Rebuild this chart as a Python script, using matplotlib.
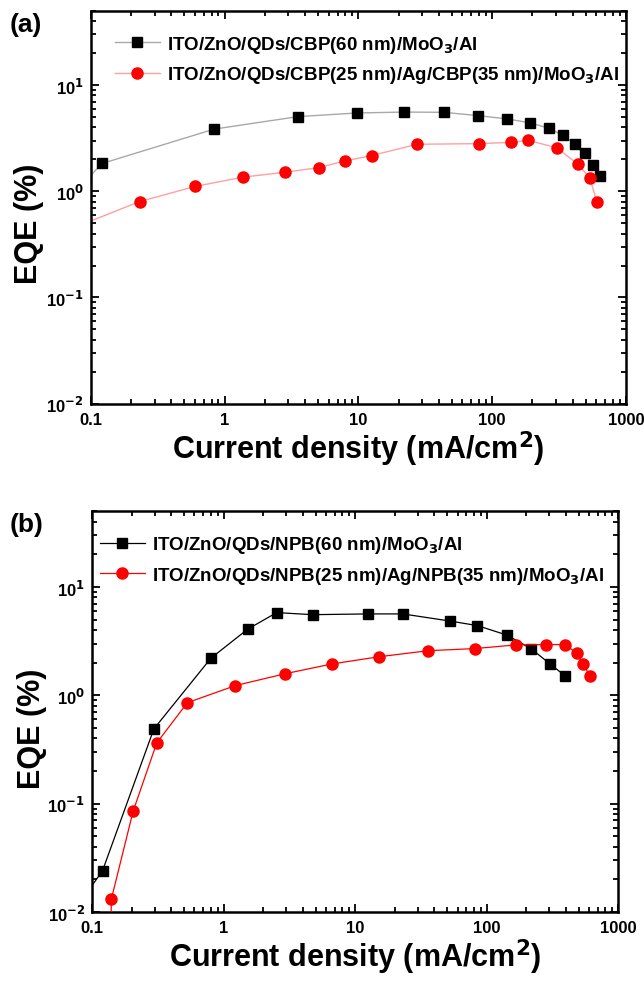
import numpy as np
import matplotlib.pyplot as plt
from matplotlib.ticker import LogLocator, NullFormatter, FixedLocator, FixedFormatter

plt.rcParams['font.family'] = ['Liberation Sans', 'DejaVu Sans']
plt.rcParams['font.weight'] = 'bold'
plt.rcParams['mathtext.default'] = 'bf'

# panel (a): CBP devices (first point of each list lies left of the axis, line only)
a_ref_j = [0.085, 0.122, 0.836, 3.55, 9.8, 21.8, 43.5, 79, 130, 193, 264, 340, 415, 490, 567, 645]
a_ref_eqe = [1.15, 1.83, 3.85, 5.05, 5.46, 5.57, 5.54, 5.15, 4.8, 4.4, 3.93, 3.36, 2.81, 2.29, 1.77, 1.39]
a_ag_j = [0.08, 0.232, 0.60, 1.38, 2.83, 5.05, 7.9, 12.6, 27.4, 79.6, 139, 186, 306, 436, 537, 607]
a_ag_eqe = [0.47, 0.80, 1.11, 1.36, 1.51, 1.67, 1.93, 2.17, 2.77, 2.81, 2.89, 3.02, 2.56, 1.80, 1.34, 0.785]

# panel (b): NPB devices
b_ref_j = [0.08, 0.12, 0.295, 0.80, 1.52, 2.53, 4.75, 12.6, 23, 52.5, 85, 142, 217, 301, 395]
b_ref_eqe = [0.012, 0.024, 0.49, 2.2, 4.07, 5.8, 5.55, 5.64, 5.64, 4.85, 4.4, 3.6, 2.70, 1.96, 1.51]
b_ag_j = [0.138, 0.14, 0.205, 0.31, 0.53, 1.23, 2.92, 6.7, 15.2, 35.8, 81, 167, 283, 393, 482, 538, 609]
b_ag_eqe = [0.003, 0.0131, 0.085, 0.363, 0.855, 1.23, 1.58, 1.95, 2.27, 2.58, 2.70, 2.92, 2.94, 2.94, 2.46, 1.95, 1.51]

labels_a = ['ITO/ZnO/QDs/CBP(60 nm)/MoO$_3$/Al',
            'ITO/ZnO/QDs/CBP(25 nm)/Ag/CBP(35 nm)/MoO$_3$/Al']
labels_b = ['ITO/ZnO/QDs/NPB(60 nm)/MoO$_3$/Al',
            'ITO/ZnO/QDs/NPB(25 nm)/Ag/NPB(35 nm)/MoO$_3$/Al']

x_ticks = [0.1, 1, 10, 100, 1000]
x_ticklabels = ['0.1', '1', '10', '100', '1000']
y_ticks = [0.01, 0.1, 1, 10]
y_ticklabels = ['10$^{-2}$', '10$^{-1}$', '10$^{0}$', '10$^{1}$']

fig = plt.figure(figsize=(6.44, 9.87), dpi=100)
ax1 = fig.add_axes([0.141, 0.590, 0.831, 0.398])
ax2 = fig.add_axes([0.143, 0.075, 0.817, 0.406])


def style(ax):
    ax.set_xscale('log')
    ax.set_yscale('log')
    ax.set_xlim(0.1, 1000)
    ax.set_ylim(0.01, 50)
    ax.xaxis.set_major_locator(FixedLocator(x_ticks))
    ax.xaxis.set_major_formatter(FixedFormatter(x_ticklabels))
    ax.yaxis.set_major_locator(FixedLocator(y_ticks))
    ax.yaxis.set_major_formatter(FixedFormatter(y_ticklabels))
    ax.xaxis.set_minor_locator(LogLocator(base=10, subs=np.arange(2, 10), numticks=20))
    ax.yaxis.set_minor_locator(LogLocator(base=10, subs=np.arange(2, 10), numticks=20))
    ax.xaxis.set_minor_formatter(NullFormatter())
    ax.yaxis.set_minor_formatter(NullFormatter())
    ax.tick_params(which='both', direction='in', top=True, right=True, width=1.3)
    ax.tick_params(which='major', length=6, labelsize=12)
    ax.tick_params(axis='x', which='major', pad=6)
    ax.tick_params(axis='y', which='major', pad=5)
    ax.tick_params(which='minor', length=3.5)
    for s in ax.spines.values():
        s.set_linewidth(1.8)
    ax.set_xlabel('Current density (mA/cm$^2$)', fontsize=22, fontweight='bold', labelpad=1)
    ax.set_ylabel('EQE (%)', fontsize=22, fontweight='bold', va='center')
    ax.yaxis.set_label_coords(-0.115, 0.46)


ax1.plot(a_ref_j, a_ref_eqe, '-', color='#a8a8a8', lw=1.0, zorder=1)
ax1.plot(a_ref_j, a_ref_eqe, 's', color='black', ms=7.5, zorder=3)
ax1.plot(a_ag_j, a_ag_eqe, '-', color='#ffa0a0', lw=1.0, zorder=1)
ax1.plot(a_ag_j, a_ag_eqe, 'o', color='red', ms=8, zorder=3)
h1, = ax1.plot([], [], 's-', color='#a8a8a8', mfc='black', mec='black', ms=7.5, lw=1.0)
h2, = ax1.plot([], [], 'o-', color='#ffa0a0', mfc='red', mec='red', ms=8, lw=1.0)
style(ax1)
ax1.legend([h1, h2], labels_a, loc='upper left', frameon=False, fontsize=13.5,
           handlelength=2.4, handletextpad=0.4, labelspacing=0.5,
           borderaxespad=0.3, bbox_to_anchor=(0.02, 0.975))

ax2.plot(b_ref_j, b_ref_eqe, 's-', color='black', ms=7.5, lw=0.9, zorder=2)
ax2.plot(b_ag_j, b_ag_eqe, 'o-', color='red', ms=8, lw=0.9, zorder=3)
g1, = ax2.plot([], [], 's-', color='black', ms=7.5, lw=0.9)
g2, = ax2.plot([], [], 'o-', color='red', ms=8, lw=0.9)
style(ax2)
ax2.legend([g1, g2], labels_b, loc='upper left', frameon=False, fontsize=13.5,
           handlelength=2.4, handletextpad=0.4, labelspacing=0.5,
           borderaxespad=0.3, bbox_to_anchor=(-0.01, 0.975))

fig.text(0.015, 0.975, '(a)', fontsize=19, fontweight='bold', va='center')
fig.text(0.015, 0.468, '(b)', fontsize=19, fontweight='bold', va='center')

fig.savefig('out.png', dpi=100)
